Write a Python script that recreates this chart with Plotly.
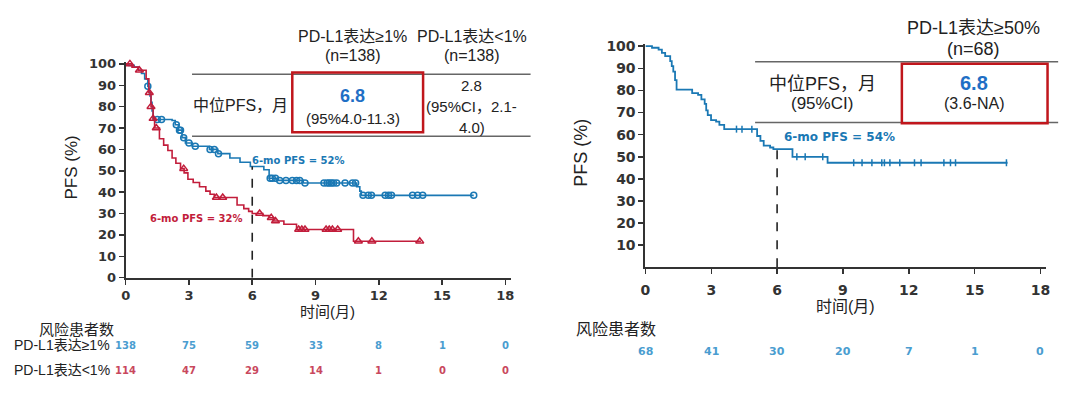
import plotly.graph_objects as go

W, H = 1080, 393

# ---------------- data ----------------
ticks_x = [0, 3, 6, 9, 12, 15, 18]

# Left panel, PD-L1 >= 1% (blue)
ge1_t = [0, 0.15, 0.4, 0.6, 0.75, 0.9, 1.05, 1.1, 1.15, 1.2, 1.25, 1.3, 2.2, 2.35, 2.5, 2.67, 2.83,
         3.16, 3.97, 4.37, 4.94, 5.42, 5.91, 6.55, 6.8, 7.2, 8.42, 10.95, 11.1, 11.17, 16.5]
ge1_s = [100, 99.3, 98.5, 97, 95.5, 93, 89.5, 87, 85, 82, 78, 74, 73.5, 71.5, 69, 65.5, 63,
         61.5, 60, 58, 56, 54, 52, 50.5, 46.5, 45.5, 44.3, 42.5, 40.5, 38.5, 38.5]
ge1_cens_t = [1.05, 1.5, 1.7, 2.4, 2.55, 2.6, 2.75, 3.0, 3.3, 4.0, 4.2, 4.4, 6.85, 6.95, 7.1, 7.3,
              7.6, 7.9, 8.1, 8.25, 8.5, 9.4, 9.55, 9.65, 9.75, 9.85, 10.0, 10.4, 10.75, 10.9,
              11.25, 11.5, 11.65, 12.3, 12.46, 12.6, 13.6, 13.84, 14.08, 16.5]

# Left panel, PD-L1 < 1% (red)
lt1_t = [0, 0.3, 0.6, 0.97, 1.1, 1.2, 1.3, 1.37, 1.6, 1.8, 2.0, 2.2, 2.38, 2.6, 2.77, 2.95, 3.2,
         3.5, 3.8, 4.0, 4.2, 5.28, 5.6, 5.83, 6.0, 6.5, 6.8, 7.0, 7.5, 8.1, 10.8, 14.0]
lt1_s = [100, 98.5, 97, 93, 86.5, 80, 74.4, 70, 65, 62, 59.5, 56, 53.5, 51, 49, 46, 44.5,
         42.5, 40.5, 39, 37.5, 34, 32.3, 31, 30, 29, 28, 26.5, 25, 22.5, 17, 17]
lt1_cens_t = [0.2, 0.65, 1.12, 1.2, 1.3, 1.45, 2.75, 4.3, 4.6, 6.35, 6.9, 7.1, 8.2, 8.35, 8.5,
              9.5, 9.65, 9.8, 10.05, 11.03, 11.67, 13.94]

# Right panel, PD-L1 >= 50% (blue)
ge50_t = [0, 0.3, 0.6, 0.75, 0.9, 1.13, 1.2, 1.27, 1.35, 1.42, 2.13, 2.4, 2.55, 2.7, 2.77, 2.84,
          2.99, 3.22, 3.37, 3.59, 5.09, 5.24, 5.39, 5.68, 5.83, 6.7, 8.3, 16.5]
ge50_s = [100, 99.3, 98.5, 97, 95.5, 93.3, 91, 88.5, 84.7, 80.4, 78.8, 78, 76, 73.9, 71, 68.8,
          66.6, 65.9, 64.4, 62.5, 59.4, 57.2, 55, 54.2, 53.5, 50, 47.3, 47.3]
ge50_cens_t = [4.15, 4.4, 4.85, 6.9, 7.28, 8.08, 9.49, 9.87, 10.32, 10.77, 10.89, 11.14, 11.59,
               12.26, 12.56, 13.6, 13.9, 14.13, 16.45]

risk_ge1 = [138, 75, 59, 33, 8, 1, 0]
risk_lt1 = [114, 47, 29, 14, 1, 0, 0]
risk_ge50 = [68, 41, 30, 20, 7, 1, 0]

left_yticks = [0, 10, 20, 30, 40, 50, 60, 70, 80, 90, 100]
right_yticks = [10, 20, 30, 40, 50, 60, 70, 80, 90, 100]

# ---------------- styles ----------------
BLUE = "#1a78b4"
RED = "#c21d3b"
RISK_BLUE = "#4a9dd0"
RISK_RED = "#c9485d"
BOX_RED = "#c0161c"
NUM_BLUE = "#1f6fc5"
AX = "#333333"
CJK = "Liberation Sans, Noto Sans CJK SC"
TICKF = "DejaVu Sans"


def px(x):
    return x / W


def py(y):
    return (H - y) / H


def step_at(ts, ss, t):
    v = ss[0]
    for ti, si in zip(ts, ss):
        if ti <= t:
            v = si
    return v


fig = go.Figure()

# Left curves
fig.add_trace(go.Scatter(x=ge1_t, y=ge1_s, mode="lines", line=dict(color=BLUE, width=1.6, shape="hv"),
                         xaxis="x", yaxis="y", hoverinfo="skip"))
fig.add_trace(go.Scatter(x=ge1_cens_t, y=[step_at(ge1_t, ge1_s, t) for t in ge1_cens_t], mode="markers",
                         marker=dict(symbol="circle-open", size=6, color=BLUE, line=dict(width=1.5)),
                         xaxis="x", yaxis="y", cliponaxis=False, hoverinfo="skip"))
fig.add_trace(go.Scatter(x=lt1_t, y=lt1_s, mode="lines", line=dict(color=RED, width=1.6, shape="hv"),
                         xaxis="x", yaxis="y", hoverinfo="skip"))
fig.add_trace(go.Scatter(x=lt1_cens_t, y=[step_at(lt1_t, lt1_s, t) for t in lt1_cens_t], mode="markers",
                         marker=dict(symbol="triangle-up-open", size=7, color=RED, line=dict(width=1.5)),
                         xaxis="x", yaxis="y", cliponaxis=False, hoverinfo="skip"))

# Right curve
fig.add_trace(go.Scatter(x=ge50_t, y=ge50_s, mode="lines", line=dict(color=BLUE, width=1.8, shape="hv"),
                         xaxis="x2", yaxis="y2", hoverinfo="skip"))
fig.add_trace(go.Scatter(x=ge50_cens_t, y=[step_at(ge50_t, ge50_s, t) for t in ge50_cens_t], mode="markers",
                         marker=dict(symbol="line-ns", size=5, color=BLUE, line=dict(width=1.5, color=BLUE)),
                         xaxis="x2", yaxis="y2", cliponaxis=False, hoverinfo="skip"))

axis_common = dict(showline=True, linecolor=AX, linewidth=2, ticks="outside", ticklen=5, tickwidth=1.5,
                   tickcolor=AX, showgrid=False, zeroline=False, fixedrange=True)

fig.update_layout(
    width=W, height=H, margin=dict(l=0, r=0, t=0, b=0),
    paper_bgcolor="white", plot_bgcolor="white", showlegend=False,
    xaxis=dict(domain=[px(121.7), px(509.9)], range=[0, 18.25], tickvals=ticks_x, anchor="y",
               tickfont=dict(family=TICKF, size=13, color=AX, weight="bold"), **axis_common),
    yaxis=dict(domain=[py(281.7), py(57.8)], range=[0, 101], tickvals=left_yticks, anchor="x",
               tickfont=dict(family=TICKF, size=13, color=AX, weight="bold"), **axis_common),
    xaxis2=dict(domain=[px(645.8), px(1049.7)], range=[0, 18.25], tickvals=ticks_x, anchor="y2",
                ticklabelstandoff=4,
                tickfont=dict(family=TICKF, size=14, color=AX, weight="bold"), **axis_common),
    yaxis2=dict(domain=[py(271), py(39.4)], range=[0, 101], tickvals=right_yticks, anchor="x2",
                tickfont=dict(family=TICKF, size=14, color=AX, weight="bold"), **axis_common),
)

shapes = []
# dashed 6-month lines
shapes.append(dict(type="line", xref="x", yref="y", x0=6, x1=6, y0=0, y1=step_at(ge1_t, ge1_s, 6),
                   line=dict(color="#222", width=1.6, dash="dash")))
shapes.append(dict(type="line", xref="x2", yref="y2", x0=6, x1=6, y0=0, y1=step_at(ge50_t, ge50_s, 6),
                   line=dict(color="#222", width=1.6, dash="dash")))
# left table lines and box
for yy in (70.7, 135):
    shapes.append(dict(type="line", xref="paper", yref="paper", x0=px(188.6), x1=px(530), y0=py(yy), y1=py(yy),
                       line=dict(color="#666", width=1.5)))
shapes.append(dict(type="rect", xref="paper", yref="paper", x0=px(289.7), x1=px(421.6), y0=py(131), y1=py(69),
                   line=dict(color=BOX_RED, width=2.5), fillcolor="rgba(0,0,0,0)"))
# right table lines and box
for yy in (57.7, 120.7):
    shapes.append(dict(type="line", xref="paper", yref="paper", x0=px(756.4), x1=px(1062), y0=py(yy), y1=py(yy),
                       line=dict(color="#666", width=1.5)))
shapes.append(dict(type="rect", xref="paper", yref="paper", x0=px(904.4), x1=px(1051.3), y0=py(121.7), y1=py(60),
                   line=dict(color=BOX_RED, width=2.5), fillcolor="rgba(0,0,0,0)"))
fig.update_layout(shapes=shapes)

ann = []


def txt(x, y, s, size, color="#222", family=CJK, bold=False, xanchor="center", angle=0, xref="paper"):
    ann.append(dict(x=(x if xref != "paper" else px(x)), y=py(y), xref=xref, yref="paper", text=s,
                    showarrow=False, xanchor=xanchor, yanchor="middle", textangle=angle,
                    font=dict(family=family, size=size, color=color, weight=("bold" if bold else "normal"))))


# left panel texts
txt(67, 167, "PFS (%)", 17, angle=-90)
txt(325, 317, "时间(月)", 15)
txt(72.5, 335, "风险患者数", 15)
txt(108, 352, "PD-L1表达≥1%", 14, xanchor="right")
txt(108, 377, "PD-L1表达<1%", 14, xanchor="right")
for t, n in zip(ticks_x, risk_ge1):
    txt(t, 352, str(n), 10, color=RISK_BLUE, family=TICKF, bold=True, xref="x")
for t, n in zip(ticks_x, risk_lt1):
    txt(t, 378, str(n), 10, color=RISK_RED, family=TICKF, bold=True, xref="x")
txt(350.5, 31.7, "PD-L1表达≥1%", 16)
txt(350.5, 51.7, "(n=138)", 16)
txt(470.6, 31.7, "PD-L1表达<1%", 16)
txt(470.6, 51.7, "(n=138)", 16)
txt(237.3, 103, "中位PFS，月", 16)
txt(350.5, 93, "6.8", 18, color=NUM_BLUE, bold=True)
txt(350.5, 117, "(95%4.0-11.3)", 15)
txt(470.6, 82, "2.8", 15)
txt(470.6, 104, "(95%CI，2.1-", 15)
txt(470.6, 126, "4.0)", 15)
txt(247.2, 160, "6-mo PFS = 52%", 10, color=BLUE, family=TICKF, bold=True, xanchor="left")
txt(144, 220, "6-mo PFS = 32%", 10, color=RED, family=TICKF, bold=True, xanchor="left")

# right panel texts
txt(580, 152, "PFS (%)", 18, angle=-90)
txt(847.8, 312, "时间(月)", 16)
txt(616.4, 335, "风险患者数", 16)
for t, n in zip(ticks_x, risk_ge50):
    txt(t, 358, str(n), 11, color=RISK_BLUE, family=TICKF, bold=True, xref="x2")
txt(976.8, 23, "PD-L1表达≥50%", 18)
txt(976.8, 45, "(n=68)", 18)
txt(824, 81, "中位PFS，月", 18)
txt(824, 101, "(95%CI)", 17)
txt(976.8, 80, "6.8", 20, color=NUM_BLUE, bold=True)
txt(976.8, 101, "(3.6-NA)", 16)
txt(783.2, 136, "6-mo PFS = 54%", 12, color=BLUE, family=TICKF, bold=True, xanchor="left")

fig.update_layout(annotations=ann)

fig.write_html("out.html", config={"displayModeBar": False, "staticPlot": True},
               post_script="document.body.style.margin='0px';document.body.style.overflow='hidden';")
